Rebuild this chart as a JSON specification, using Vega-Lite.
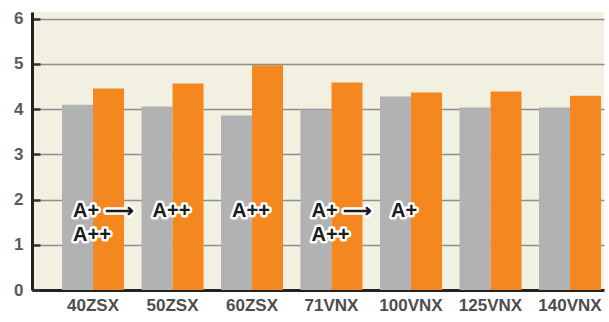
{
  "$schema": "https://vega.github.io/schema/vega-lite/v6.json",
  "width": 572,
  "height": 278,
  "autosize": "none",
  "padding": {"left": 32, "top": 12, "right": 5, "bottom": 32},
  "background": "white",
  "config": {
    "view": {"fill": "#F2F0E0", "stroke": null},
    "font": "Liberation Sans"
  },
  "datasets": {
    "bars": [
      {"model": "40ZSX", "series": "A", "value": 4.10},
      {"model": "40ZSX", "series": "B", "value": 4.46},
      {"model": "50ZSX", "series": "A", "value": 4.06},
      {"model": "50ZSX", "series": "B", "value": 4.57},
      {"model": "60ZSX", "series": "A", "value": 3.86},
      {"model": "60ZSX", "series": "B", "value": 4.97},
      {"model": "71VNX", "series": "A", "value": 3.99},
      {"model": "71VNX", "series": "B", "value": 4.59},
      {"model": "100VNX", "series": "A", "value": 4.28},
      {"model": "100VNX", "series": "B", "value": 4.37},
      {"model": "125VNX", "series": "A", "value": 4.04},
      {"model": "125VNX", "series": "B", "value": 4.39},
      {"model": "140VNX", "series": "A", "value": 4.04},
      {"model": "140VNX", "series": "B", "value": 4.30}
    ],
    "notes": [
      {"model": "40ZSX", "label": "A+ ⟶", "pos": 1.74},
      {"model": "40ZSX", "label": "A++", "pos": 1.21},
      {"model": "50ZSX", "label": "A++", "pos": 1.74},
      {"model": "60ZSX", "label": "A++", "pos": 1.74},
      {"model": "71VNX", "label": "A+ ⟶", "pos": 1.74},
      {"model": "71VNX", "label": "A++", "pos": 1.21},
      {"model": "100VNX", "label": "A+", "pos": 1.74}
    ]
  },
  "layer": [
    {
      "data": {"name": "bars"},
      "mark": {"type": "bar"},
      "encoding": {
        "x": {
          "field": "model", "type": "nominal",
          "sort": ["40ZSX", "50ZSX", "60ZSX", "71VNX", "100VNX", "125VNX", "140VNX"],
          "scale": {"paddingInner": 0.22, "paddingOuter": 0.2075, "align": 0.91},
          "axis": {
            "title": null, "labelAngle": 0, "ticks": false,
            "domainColor": "#222", "domainWidth": 3,
            "labelFont": "Liberation Sans", "labelFontWeight": "bold",
            "labelFontSize": 17, "labelColor": "#4d4d4d", "labelPadding": 7
          }
        },
        "xOffset": {"field": "series", "type": "nominal", "scale": {"paddingInner": 0, "paddingOuter": 0}},
        "y": {
          "field": "value", "type": "quantitative",
          "scale": {"domain": [0, 6.15], "nice": false, "zero": true},
          "axis": {
            "title": null,
            "values": [0, 0.5, 1, 1.5, 2, 2.5, 3, 3.5, 4, 4.5, 5, 5.5, 6],
            "labelExpr": "datum.value % 1 === 0 ? datum.label : ''",
            "domainColor": "#222", "domainWidth": 3,
            "tickSize": -8, "tickWidth": 2.5, "tickColor": "#333",
            "grid": true, "gridColor": "#8E8E8E", "gridWidth": 1.5,
            "gridOpacity": {"condition": {"test": "datum.value % 1 === 0 && datum.value > 0", "value": 1}, "value": 0},
            "labelFont": "Liberation Sans", "labelFontWeight": "bold",
            "labelFontSize": 17, "labelColor": "#5a5a5a", "labelPadding": 17
          }
        },
        "color": {
          "field": "series", "type": "nominal",
          "scale": {"domain": ["A", "B"], "range": ["#B1B2B4", "#F48720"]},
          "legend": null
        }
      }
    },
    {
      "data": {"name": "notes"},
      "mark": {"type": "text", "align": "left", "baseline": "middle", "dx": -20, "fontSize": 20, "fontWeight": "bold", "font": "Liberation Sans", "stroke": "white", "strokeWidth": 5, "strokeJoin": "round", "fill": "white"},
      "encoding": {
        "x": {"field": "model", "type": "nominal", "sort": ["40ZSX", "50ZSX", "60ZSX", "71VNX", "100VNX", "125VNX", "140VNX"]},
        "y": {"field": "pos", "type": "quantitative"},
        "text": {"field": "label"}
      }
    },
    {
      "data": {"name": "notes"},
      "mark": {"type": "text", "align": "left", "baseline": "middle", "dx": -20, "fontSize": 20, "fontWeight": "bold", "font": "Liberation Sans", "fill": "#1a1a1a"},
      "encoding": {
        "x": {"field": "model", "type": "nominal", "sort": ["40ZSX", "50ZSX", "60ZSX", "71VNX", "100VNX", "125VNX", "140VNX"]},
        "y": {"field": "pos", "type": "quantitative"},
        "text": {"field": "label"}
      }
    }
  ]
}
